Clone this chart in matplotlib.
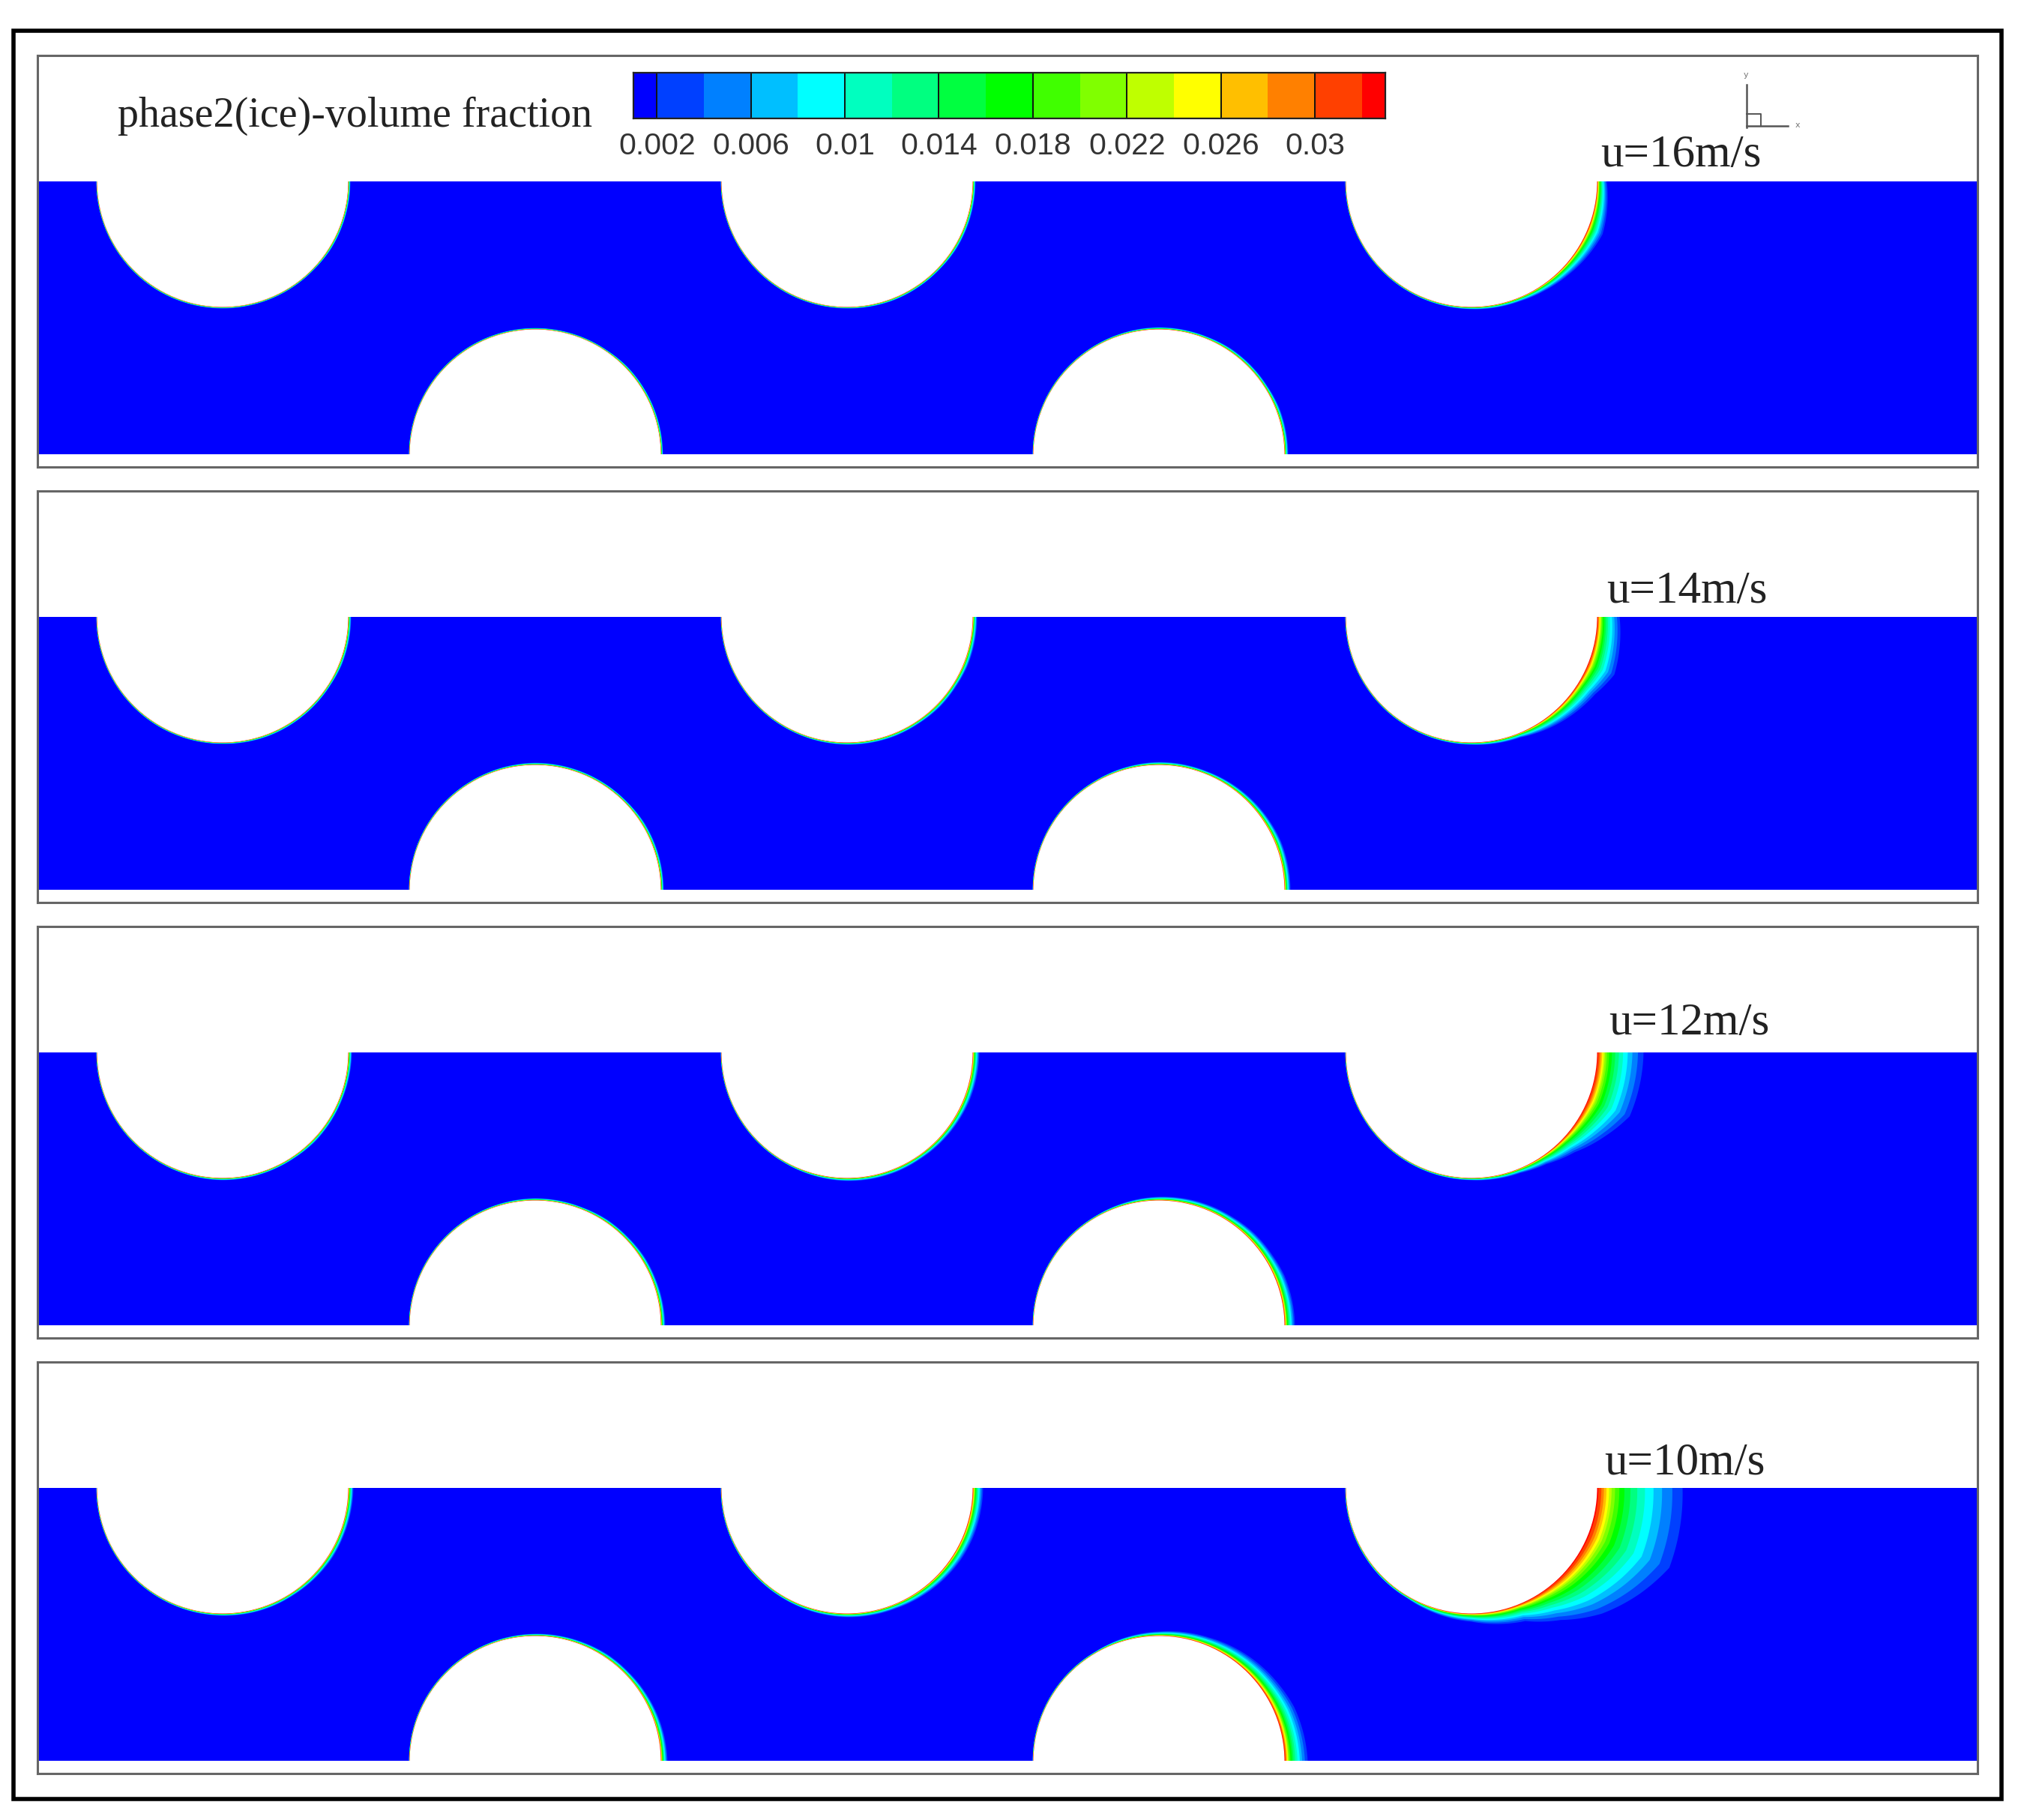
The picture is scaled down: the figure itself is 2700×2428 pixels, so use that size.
#!/usr/bin/env python3
"""Ice volume fraction around the channel cylinders at four inlet speeds."""

import matplotlib

matplotlib.use("Agg")
import matplotlib.pyplot as plt
import numpy as np
from matplotlib.colors import BoundaryNorm, ListedColormap
from matplotlib.patches import Circle, Rectangle

WIDTH, HEIGHT = 2700, 2428

speed_labels = ["u=16m/s", "u=14m/s", "u=12m/s", "u=10m/s"]

level_edges = [0.001, 0.002, 0.004, 0.006, 0.008, 0.01, 0.012, 0.014, 0.016,
               0.018, 0.02, 0.022, 0.024, 0.026, 0.028, 0.03, 0.032, 0.033]
level_colors = ["#0000ff", "#0040ff", "#0080ff", "#00bfff", "#00ffff", "#00ffbf",
                "#00ff80", "#00ff40", "#00ff00", "#40ff00", "#80ff00", "#bfff00",
                "#ffff00", "#ffbf00", "#ff8000", "#ff4000", "#ff0000"]
tick_values = [0.002, 0.006, 0.01, 0.014, 0.018, 0.022, 0.026, 0.03]
tick_labels = ["0.002", "0.006", "0.01", "0.014", "0.018", "0.022", "0.026", "0.03"]

# outer edge of each colour band, as a share of the wake thickness
band_share = [1.0, 0.88, 0.76, 0.66, 0.56, 0.47, 0.39, 0.32,
              0.26, 0.21, 0.17, 0.14, 0.11, 0.08, 0.05, 0.015]

# cylinder centres along the channel, panel pixels
top_centres = [247, 1080, 1913]
bottom_centres = [664, 1496]

# angle from the downstream wall point, degrees
wake_angles = [0, 22, 32, 44, 56, 68, 90, 120, 180]

# wake thickness per speed, one row per cylinder (top three, then bottom two)
wake_u16 = [[3, 3, 3, 2, 2, 2, 2, 2, 1],
            [4, 4, 4, 3, 3, 3, 2, 2, 1],
            [13, 21, 17, 12, 8, 5, 3, 2, 1],
            [3, 3, 3, 3, 2, 2, 2, 2, 1],
            [5, 5, 4, 4, 4, 3, 3, 2, 1]]
wake_u14 = [[4, 4, 3, 3, 3, 3, 2, 2, 1],
            [6, 6, 5, 5, 4, 4, 3, 2, 1],
            [30, 38, 27, 20, 13, 6, 3, 2, 1],
            [4, 4, 4, 3, 3, 3, 3, 2, 1],
            [8, 8, 7, 6, 5, 4, 4, 2, 1]]
wake_u12 = [[5, 4, 4, 4, 3, 3, 3, 2, 1],
            [9, 8, 7, 6, 5, 5, 4, 2, 1],
            [62, 60, 43, 24, 12, 6, 3, 2, 1],
            [6, 5, 5, 4, 4, 3, 3, 2, 1],
            [14, 13, 11, 10, 8, 7, 5, 2, 1]]
wake_u10 = [[7, 6, 6, 5, 4, 4, 3, 2, 1],
            [14, 13, 12, 10, 8, 6, 5, 3, 1],
            [114, 117, 98, 74, 45, 24, 11, 3, 1],
            [9, 7, 6, 5, 5, 4, 3, 2, 1],
            [31, 27, 23, 19, 15, 11, 6, 2, 1]]
wake_tables = [wake_u16, wake_u14, wake_u12, wake_u10]

PANEL_LEFT = 50
PANEL_WIDTH = 2588
PANEL_HEIGHT = 549
PANEL_TOPS = [74, 655, 1236, 1817]
LABEL_X = [2242, 2250, 2253, 2247]
LABEL_Y = [207, 789, 1365, 1952]
CHANNEL_TOP = 168
CHANNEL_BOTTOM = 532
RADIUS = 167.5
GREY = "#666666"
BLUE = level_colors[0]


def axes_at(fig, left, top, width, height):
    return fig.add_axes([left / WIDTH, 1 - (top + height) / HEIGHT, width / WIDTH, height / HEIGHT])


def draw_wake(ax, cx, wall_y, sign, thickness):
    theta = np.linspace(0, 180, 361)
    t = np.interp(theta, wake_angles, thickness)
    rad = np.deg2rad(theta)
    for colour, share in zip(level_colors[1:], band_share):
        r = RADIUS + t * share
        x = cx + r * np.cos(rad)
        y = wall_y + sign * r * np.sin(rad)
        ax.fill(x, y, color=colour, lw=0, zorder=1)


def draw_panel(fig, top, table):
    ax = axes_at(fig, PANEL_LEFT, top, PANEL_WIDTH, PANEL_HEIGHT)
    ax.set_xlim(0, PANEL_WIDTH)
    ax.set_ylim(PANEL_HEIGHT, 0)
    ax.set_xticks([])
    ax.set_yticks([])
    for spine in ax.spines.values():
        spine.set_color(GREY)
        spine.set_linewidth(2.2)
    ax.add_patch(Rectangle((0, CHANNEL_TOP), PANEL_WIDTH, CHANNEL_BOTTOM - CHANNEL_TOP, color=BLUE, lw=0, zorder=0.5))
    walls = [(c, CHANNEL_TOP, 1) for c in top_centres] + [(c, CHANNEL_BOTTOM + 1, -1) for c in bottom_centres]
    for (cx, wall_y, sign), thickness in zip(walls, table):
        draw_wake(ax, cx, wall_y, sign, thickness)
        # spines have to stay on top of the white cylinders
        ax.add_patch(Circle((cx, wall_y), RADIUS, color="white", lw=0, zorder=1.5))
    # wake bands stop at the channel walls
    ax.add_patch(Rectangle((0, 0), PANEL_WIDTH, CHANNEL_TOP, color="white", lw=0, zorder=1.6))
    ax.add_patch(Rectangle((0, CHANNEL_BOTTOM), PANEL_WIDTH, PANEL_HEIGHT - CHANNEL_BOTTOM, color="white", lw=0, zorder=1.6))


def draw_colorbar(fig):
    ax = axes_at(fig, 845, 97, 1003, 61)
    cmap = ListedColormap(level_colors)
    norm = BoundaryNorm(level_edges, cmap.N)
    values = [(a + b) / 2 for a, b in zip(level_edges[:-1], level_edges[1:])]
    ax.pcolormesh(level_edges, [0, 1], [values], cmap=cmap, norm=norm)
    ax.vlines(tick_values, 0, 1, color="#111111", lw=1.4)
    ax.set_xlim(level_edges[0], level_edges[-1])
    ax.set_ylim(0, 1)
    ax.set_yticks([])
    ax.set_xticks(tick_values, tick_labels, fontsize=29.5, color="#333333", family="Liberation Sans")
    ax.tick_params(axis="x", length=0, pad=13)
    for spine in ax.spines.values():
        spine.set_color("#222222")
        spine.set_linewidth(1.6)


def main():
    fig = plt.figure(figsize=(WIDTH / 100, HEIGHT / 100), dpi=100, facecolor="white")

    page = fig.add_axes([0, 0, 1, 1])
    page.set_xlim(0, WIDTH)
    page.set_ylim(HEIGHT, 0)
    page.axis("off")
    page.add_patch(Rectangle((18, 41), 2652, 2359, fill=False, ec="black", lw=4))

    for top, table in zip(PANEL_TOPS, wake_tables):
        draw_panel(fig, top, table)
    draw_colorbar(fig)

    # overlay for the annotations, drawn above the panels
    over = fig.add_axes([0, 0, 1, 1])
    over.set_xlim(0, WIDTH)
    over.set_ylim(HEIGHT, 0)
    over.axis("off")
    over.patch.set_alpha(0)
    over.text(157, 155, "phase2(ice)-volume fraction", fontsize=40.3, family="Liberation Serif",
              color="#222222", va="center", ha="left")
    for label, x, y in zip(speed_labels, LABEL_X, LABEL_Y):
        over.text(x, y, label, fontsize=44, family="Liberation Serif", color="#222222", va="center", ha="center")

    # coordinate triad
    over.plot([2330, 2330], [113, 170], color="#555555", lw=1.8)
    over.plot([2330, 2385], [168, 168], color="#555555", lw=1.8)
    over.plot([2330, 2349, 2349], [152, 152, 168], color="#555555", lw=1.4)
    over.text(2329, 100, "y", fontsize=8, color="#777777", ha="center", va="center")
    over.text(2398, 167, "x", fontsize=8, color="#777777", ha="center", va="center")

    fig.savefig("out.png", dpi=100)
    plt.close(fig)


if __name__ == "__main__":
    main()
